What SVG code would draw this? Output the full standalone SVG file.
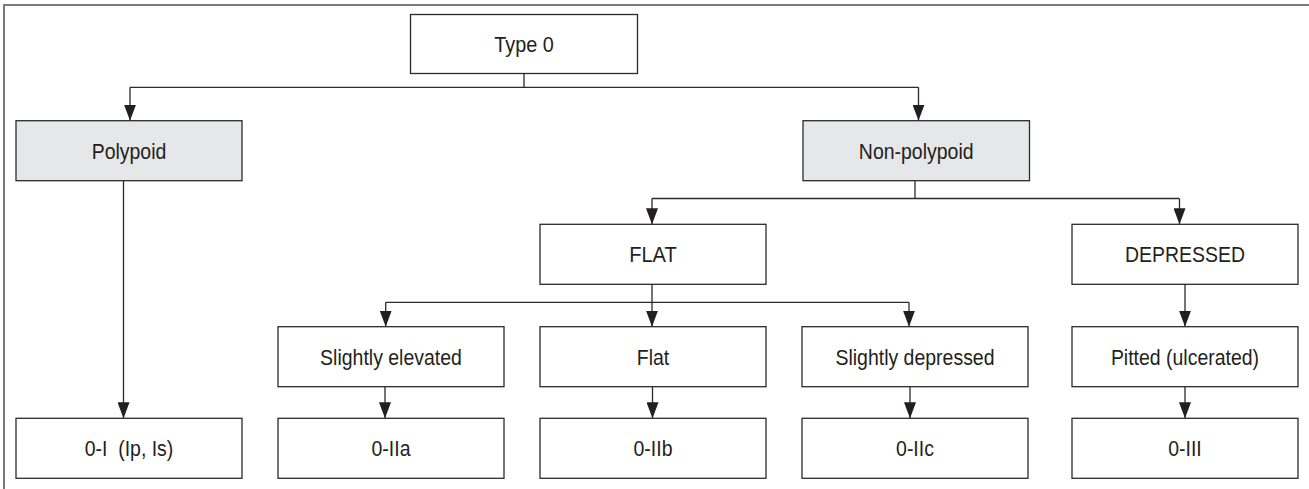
<svg xmlns="http://www.w3.org/2000/svg" width="1309" height="489" viewBox="0 0 1309 489">
<style>
.box{fill:#ffffff;stroke:#2b2b2b;stroke-width:1.3}
.grey{fill:#e6e7e8}
.lbl{font-family:"Liberation Sans",Arial,sans-serif;font-size:22px;fill:#231f20;text-anchor:middle}
.con{fill:none;stroke:#2b2b2b;stroke-width:1.3}
.arr{marker-end:url(#ah)}
</style>
<defs>
<marker id="ah" viewBox="0 0 16 12" markerWidth="16" markerHeight="12" refX="16" refY="6" orient="auto" markerUnits="userSpaceOnUse">
<path d="M0,0 L16,6 L0,12 z" fill="#231f20"/>
</marker>
</defs>
<rect width="1309" height="489" fill="#ffffff"/>
<path d="M4,489 V5 H1309" fill="none" stroke="#7a7a7a" stroke-width="2"/>
<g id="connectors">
<path class="con" d="M524,73.5 V87.3 M130,87.3 H918.5"/>
<path class="con arr" d="M130,87.3 V120.7"/>
<path class="con arr" d="M918.5,87.3 V120.7"/>
<path class="con arr" d="M123.5,180.7 V418.3"/>
<path class="con" d="M915,180.7 V198.5 M652,198.5 H1179.5"/>
<path class="con arr" d="M652,198.5 V224.3"/>
<path class="con arr" d="M1179.5,198.5 V224.3"/>
<path class="con" d="M652,284.3 V302.3 M385.7,302.3 H909"/>
<path class="con arr" d="M385.7,302.3 V326.7"/>
<path class="con arr" d="M652,302.3 V326.7"/>
<path class="con arr" d="M909,302.3 V326.7"/>
<path class="con arr" d="M1185,284.3 V326.7"/>
<path class="con arr" d="M385,386.7 V418.3"/>
<path class="con arr" d="M652.5,386.7 V418.3"/>
<path class="con arr" d="M910,386.7 V418.3"/>
<path class="con arr" d="M1185,386.7 V418.3"/>
</g>
<g id="type0"><rect class="box" x="410.5" y="14.5" width="227" height="59"/><text class="lbl" x="524" y="52" textLength="59.5" lengthAdjust="spacingAndGlyphs">Type 0</text></g>
<g id="polypoid"><rect class="box grey" x="16" y="120.7" width="226" height="60"/><text class="lbl" x="129" y="158.7" textLength="74.7" lengthAdjust="spacingAndGlyphs">Polypoid</text></g>
<g id="nonpolypoid"><rect class="box grey" x="803" y="120.7" width="226.5" height="60"/><text class="lbl" x="916.2" y="158.7" textLength="114.7" lengthAdjust="spacingAndGlyphs">Non-polypoid</text></g>
<g id="flat-group"><rect class="box" x="540" y="224.3" width="226" height="60"/><text class="lbl" x="653" y="262.3" textLength="47.6" lengthAdjust="spacingAndGlyphs">FLAT</text></g>
<g id="depressed-group"><rect class="box" x="1072" y="224.3" width="226" height="60"/><text class="lbl" x="1185" y="262.3" textLength="120.1" lengthAdjust="spacingAndGlyphs">DEPRESSED</text></g>
<g id="slightly-elevated"><rect class="box" x="278" y="326.7" width="226" height="60"/><text class="lbl" x="391" y="364.7" textLength="141.8" lengthAdjust="spacingAndGlyphs">Slightly elevated</text></g>
<g id="flat"><rect class="box" x="540" y="326.7" width="226" height="60"/><text class="lbl" x="653" y="364.7" textLength="32.5" lengthAdjust="spacingAndGlyphs">Flat</text></g>
<g id="slightly-depressed"><rect class="box" x="802" y="326.7" width="226" height="60"/><text class="lbl" x="915" y="364.7" textLength="159.1" lengthAdjust="spacingAndGlyphs">Slightly depressed</text></g>
<g id="pitted"><rect class="box" x="1072" y="326.7" width="226" height="60"/><text class="lbl" x="1185" y="364.7" textLength="148.2" lengthAdjust="spacingAndGlyphs">Pitted (ulcerated)</text></g>
<g id="t0-I"><rect class="box" x="16" y="418.3" width="226" height="60"/><text class="lbl" x="129" y="456.3" textLength="88.7" lengthAdjust="spacingAndGlyphs" xml:space="preserve">0-I  (Ip, Is)</text></g>
<g id="t0-IIa"><rect class="box" x="278" y="418.3" width="226" height="60"/><text class="lbl" x="391" y="456.3" textLength="39" lengthAdjust="spacingAndGlyphs">0-IIa</text></g>
<g id="t0-IIb"><rect class="box" x="540" y="418.3" width="226" height="60"/><text class="lbl" x="653" y="456.3" textLength="39" lengthAdjust="spacingAndGlyphs">0-IIb</text></g>
<g id="t0-IIc"><rect class="box" x="802" y="418.3" width="226" height="60"/><text class="lbl" x="915" y="456.3" textLength="37.9" lengthAdjust="spacingAndGlyphs">0-IIc</text></g>
<g id="t0-III"><rect class="box" x="1072" y="418.3" width="226" height="60"/><text class="lbl" x="1185" y="456.3" textLength="33.5" lengthAdjust="spacingAndGlyphs">0-III</text></g>
</svg>
